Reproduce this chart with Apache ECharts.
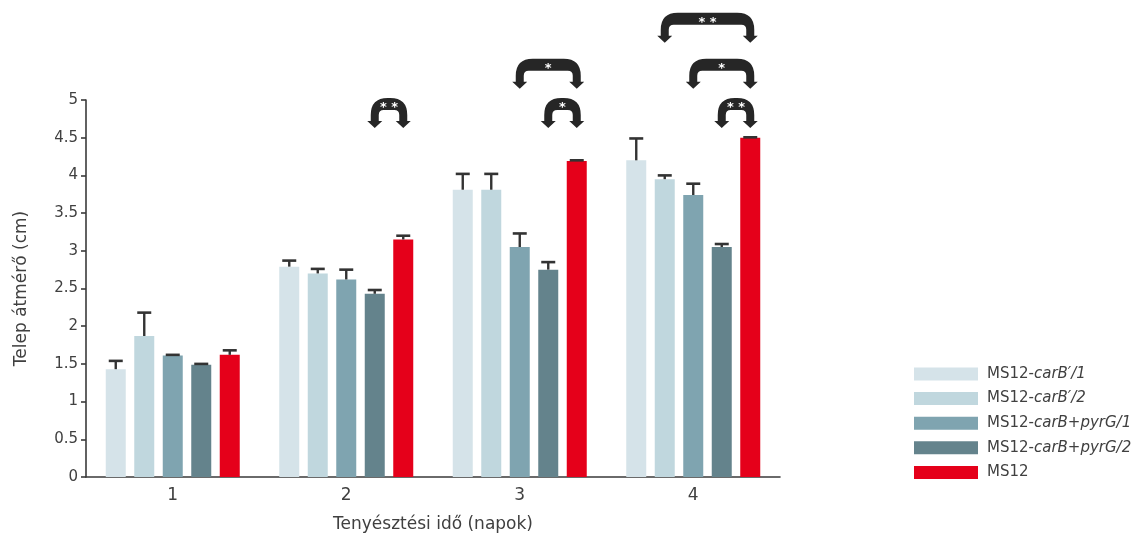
<!DOCTYPE html>
<html>
<head>
<meta charset="utf-8">
<script src="https://cdn.jsdelivr.net/npm/echarts@6/dist/echarts.min.js"></script>
<style>
  html, body { margin: 0; padding: 0; background: #fff; }
  #chart { width: 1143px; height: 536px; }
</style>
</head>
<body>
<div id="chart"></div>
<script>
// Culture time (days)
const categories = ['1', '2', '3', '4'];

// Strain names and colours
const strainNames = ['MS12-carB′/1', 'MS12-carB′/2', 'MS12-carB+pyrG/1', 'MS12-carB+pyrG/2', 'MS12'];
const strainColors = ['#d5e3e9', '#c0d7de', '#7fa4b0', '#64838c', '#e5001a'];

// Mean colony diameter (cm)
const carB1 = [1.43, 2.79, 3.81, 4.20];
const carB2 = [1.87, 2.70, 3.81, 3.95];
const pyrG1 = [1.61, 2.62, 3.05, 3.74];
const pyrG2 = [1.49, 2.43, 2.75, 3.05];
const ms12 = [1.62, 3.15, 4.19, 4.50];

// Standard deviation (upper error bar)
const carB1Err = [0.11, 0.08, 0.21, 0.29];
const carB2Err = [0.31, 0.06, 0.21, 0.05];
const pyrG1Err = [0.01, 0.13, 0.18, 0.15];
const pyrG2Err = [0.01, 0.05, 0.10, 0.04];
const ms12Err = [0.06, 0.05, 0.01, 0.005];

// Significance brackets: [day index, from strain, to strain, level, label]
const brackets = [
  [1, 3, 4, 0, '**'],
  [2, 2, 4, 1, '*'],
  [2, 3, 4, 0, '*'],
  [3, 1, 4, 2, '**'],
  [3, 2, 4, 1, '*'],
  [3, 3, 4, 0, '**']
];
// Arrow-tip height of each bracket level (axis units)
const bracketLevels = [4.63, 5.15, 5.76];

// Y axis ticks
const yMin = 0, yMax = 5, yStep = 0.5;

const means = [carB1, carB2, pyrG1, pyrG2, ms12];
const errs = [carB1Err, carB2Err, pyrG1Err, pyrG2Err, ms12Err];

const BAR_W = 20;
const BAR_GAP = 0.425;
const FONT = '"DejaVu Sans", "Noto Sans", sans-serif';
const TEXT = '#404040';

function barOffset(s) {
  return (s - (means.length - 1) / 2) * BAR_W * (1 + BAR_GAP);
}

const errorData = [];
means.forEach((arr, s) => arr.forEach((v, c) => errorData.push([c, s, v, errs[s][c]])));

const legendLabels = {
  'MS12-carB′/1': '{n|MS12-}{i|carB′/1}',
  'MS12-carB′/2': '{n|MS12-}{i|carB′/2}',
  'MS12-carB+pyrG/1': '{n|MS12-}{i|carB+pyrG/1}',
  'MS12-carB+pyrG/2': '{n|MS12-}{i|carB+pyrG/2}',
  'MS12': '{n|MS12}'
};

const barSeries = strainNames.map((name, s) => ({
  name: name,
  type: 'bar',
  data: means[s],
  barWidth: BAR_W,
  barGap: (BAR_GAP * 100) + '%',
  itemStyle: { color: strainColors[s] },
  emphasis: { disabled: true },
  z: 2
}));

const errorSeries = {
  type: 'custom',
  data: errorData,
  z: 3,
  silent: true,
  renderItem: function (params, api) {
    const c = api.value(0), s = api.value(1), v = api.value(2), e = api.value(3);
    const base = api.coord([c, v]);
    const top = api.coord([c, v + e]);
    const x = base[0] + barOffset(s);
    const capHalf = 7;
    return {
      type: 'group',
      children: [
        { type: 'line', shape: { x1: x, y1: base[1], x2: x, y2: top[1] },
          style: { stroke: '#333', lineWidth: 2.4 } },
        { type: 'line', shape: { x1: x - capHalf, y1: top[1], x2: x + capHalf, y2: top[1] },
          style: { stroke: '#333', lineWidth: 2.6 } }
      ]
    };
  }
};

const bracketSeries = {
  type: 'custom',
  data: brackets.map(b => [b[0], b[1], b[2], b[3]]),
  z: 4,
  silent: true,
  clip: false,
  renderItem: function (params, api) {
    const c = api.value(0), s1 = api.value(1), s2 = api.value(2), lvl = api.value(3);
    const label = brackets[params.dataIndex][4];
    const tip = api.coord([c, bracketLevels[lvl]]);
    const L = tip[0] + barOffset(s1);
    const R = tip[0] + barOffset(s2);
    const B = tip[1];
    const T = B - 30;
    const hw = 4, ah = 7, aw = 7.5, band = 12;
    const ro = Math.min(17, (R - L) / 2 + hw - 1);
    const ri = 5;
    const d = [
      'M', L - hw, B - ah,
      'L', L - hw, T + ro,
      'Q', L - hw, T, L - hw + ro, T,
      'L', R + hw - ro, T,
      'Q', R + hw, T, R + hw, T + ro,
      'L', R + hw, B - ah,
      'L', R + aw, B - ah,
      'L', R, B,
      'L', R - aw, B - ah,
      'L', R - hw, B - ah,
      'L', R - hw, T + band + ri,
      'Q', R - hw, T + band, R - hw - ri, T + band,
      'L', L + hw + ri, T + band,
      'Q', L + hw, T + band, L + hw, T + band + ri,
      'L', L + hw, B - ah,
      'L', L + aw, B - ah,
      'L', L, B,
      'L', L - aw, B - ah,
      'Z'
    ].join(' ');
    return {
      type: 'group',
      children: [
        { type: 'path', shape: { pathData: d }, style: { fill: '#262626' } },
        { type: 'text',
          style: {
            text: label.split('').join(' '),
            x: (L + R) / 2, y: T + band / 2 + 4,
            align: 'center', verticalAlign: 'middle',
            fill: '#ffffff', font: 'bold 13px "DejaVu Sans", sans-serif'
          } }
      ]
    };
  }
};

const chart = echarts.init(document.getElementById('chart'), null, { renderer: 'canvas' });
chart.setOption({
  animation: false,
  backgroundColor: '#ffffff',
  textStyle: { fontFamily: FONT },
  grid: { left: 86, right: 363, top: 100, bottom: 59, containLabel: false, outerBoundsMode: 'none' },
  legend: {
    orient: 'vertical',
    left: 909,
    top: 361,
    itemWidth: 64,
    itemHeight: 13,
    itemGap: 8.6,
    icon: 'rect',
    selectedMode: false,
    data: strainNames,
    formatter: name => legendLabels[name],
    textStyle: {
      color: TEXT,
      fontSize: 15,
      lineHeight: 16,
      padding: [0, 0, 0, 4],
      rich: {
        n: { fontSize: 15, color: TEXT, fontFamily: FONT, lineHeight: 16 },
        i: { fontSize: 15, color: TEXT, fontFamily: FONT, fontStyle: 'italic', lineHeight: 16 }
      }
    }
  },
  xAxis: {
    type: 'category',
    data: categories,
    name: 'Tenyésztési idő (napok)',
    nameLocation: 'middle',
    nameGap: 39,
    nameTextStyle: { fontSize: 17, color: TEXT, fontFamily: FONT },
    axisLine: { lineStyle: { color: '#3a3a3a', width: 1.6 } },
    axisTick: { alignWithLabel: true, length: 5, lineStyle: { color: '#3a3a3a', width: 1.6 } },
    axisLabel: { fontSize: 17, color: TEXT, margin: 10, fontFamily: FONT }
  },
  yAxis: {
    type: 'value',
    min: yMin,
    max: yMax,
    interval: yStep,
    name: 'Telep átmérő (cm)',
    nameLocation: 'middle',
    nameGap: 56,
    nameTextStyle: { fontSize: 17, color: TEXT, fontFamily: FONT },
    splitLine: { show: false },
    axisLine: { show: true, lineStyle: { color: '#3a3a3a', width: 1.6 } },
    axisTick: { show: true, length: 5, lineStyle: { color: '#3a3a3a', width: 1.6 } },
    axisLabel: { fontSize: 15, color: TEXT, margin: 8, fontFamily: FONT }
  },
  series: barSeries.concat([errorSeries, bracketSeries])
});
</script>
</body>
</html>
